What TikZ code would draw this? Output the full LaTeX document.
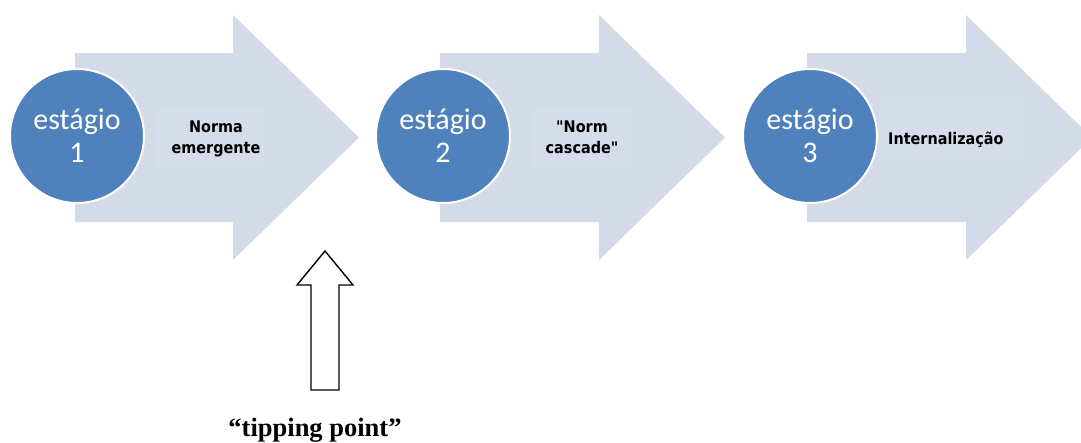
\documentclass[tikz,border=0pt]{standalone}
\usepackage{fontspec}
\setmainfont{Liberation Serif}
\newfontfamily\circfont{Carlito}
\newfontfamily\labfont[Ligatures=TeXOff]{DejaVu Sans Condensed}
\definecolor{arrowfill}{RGB}{211,218,232}
\definecolor{boxfill}{RGB}{214,221,234}
\definecolor{circblue}{RGB}{79,129,189}
\tikzset{
  bigarrow/.style={fill=arrowfill},
  textbox/.style={fill=boxfill},
  stage/.style={circle, fill=circblue, draw=white, line width=2pt, minimum size=134pt, inner sep=0pt},
  stagetxt/.style={text=white, font=\circfont\fontsize{30}{30}\selectfont, anchor=base, inner sep=0pt},
  lab/.style={font=\labfont\bfseries\fontsize{16}{18}\selectfont, anchor=base, inner sep=0pt},
  uparrow/.style={draw=black, line width=1.4pt, fill=white, line join=miter},
  tiplabel/.style={font=\bfseries\fontsize{26.5}{30}\selectfont, anchor=base, inner sep=0pt}
}
\begin{document}
\begin{tikzpicture}[x=1pt,y=-1pt]
\useasboundingbox (0,0) rectangle (1081,442);
\fill[white] (0,0) rectangle (1081,442);
% big block arrows
\foreach \L/\B/\T in {75/233/359, 440/599/725, 807/966/1092}{
  \path[bigarrow] (\L,53) -- (\B,53) -- (\B,15) -- (\T,137.5) -- (\B,260) -- (\B,222) -- (\L,222) -- cycle;
}
% faint text boxes
\path[textbox] (156,107) rectangle (264,168);
\path[textbox] (531,108) rectangle (632,170);
\path[textbox] (878,96) rectangle (1022,158);
% stage circles
\node[stage] (c1) at (77,136) {};
\node[stage] (c2) at (443,136) {};
\node[stage] (c3) at (810,136) {};
\node[stagetxt] (e1a) at (77,129) {estágio};
\node[stagetxt] (e1b) at (77,162) {1};
\node[stagetxt] (e2a) at (443,129) {estágio};
\node[stagetxt] (e2b) at (443,162) {2};
\node[stagetxt] (e3a) at (810,129) {estágio};
\node[stagetxt] (e3b) at (810,162) {3};
% labels
\node[lab] (l1a) at (216,132) {Norma};
\node[lab] (l1b) at (216,153) {emergente};
\node[lab] (l2a) at (582,132) {"Norm};
\node[lab] (l2b) at (582,153) {cascade"};
\node[lab, anchor=base west] (l3) at (888,144) {Internalização};
% tipping point arrow
\path[uparrow] (311,390) -- (311,285) -- (297,285) -- (325,251) -- (353,285) -- (339,285) -- (339,390) -- cycle;
\node[tiplabel] (tp) at (315,436) {“tipping point”};
\end{tikzpicture}
\end{document}
